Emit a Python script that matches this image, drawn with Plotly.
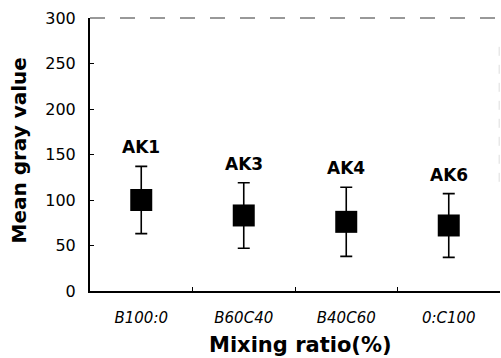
import plotly.graph_objects as go

categories = ["B100:0", "B60C40", "B40C60", "0:C100"]
labels = ["AK1", "AK3", "AK4", "AK6"]
mean_gray = [100, 83, 76, 72]
sd_gray = [37, 36, 38, 35]
y_ticks = [0, 50, 100, 150, 200, 250, 300]

fig = go.Figure()
fig.add_trace(go.Scatter(
    x=categories, y=mean_gray, mode="markers",
    marker=dict(symbol="square", size=22, color="black"),
    error_y=dict(type="data", array=sd_gray, visible=True, color="black",
                 thickness=1.6, width=6),
    showlegend=False,
))

for c, lab, m, s in zip(categories, labels, mean_gray, sd_gray):
    fig.add_annotation(x=c, y=m + s, text=lab, showarrow=False,
                       yanchor="bottom", yshift=7,
                       font=dict(family="DejaVu Sans", size=17, color="black", weight="bold"))

fig.add_annotation(xref="paper", yref="paper", x=(18 - 90) / 410, y=(291.5 - 151) / 273,
                   xanchor="center", yanchor="middle",
                   text="Mean gray value", textangle=-90, showarrow=False,
                   font=dict(family="DejaVu Sans", size=20, color="black", weight="bold"))
fig.add_annotation(xref="paper", yref="paper", x=(300 - 90) / 410, y=(291.5 - 345) / 273,
                   xanchor="center", yanchor="middle",
                   text="Mixing ratio(%)", showarrow=False,
                   font=dict(family="DejaVu Sans", size=21, color="black", weight="bold"))

# dashed top border and faint right border
fig.add_shape(type="line", xref="paper", yref="paper", x0=0, x1=1, y0=1, y1=1,
              line=dict(color="#333", width=1, dash="longdash"))
fig.add_shape(type="line", xref="paper", yref="paper", x0=0.998, x1=0.998, y0=0.4, y1=0.9,
              line=dict(color="#ddd", width=1, dash="dash"))

fig.update_layout(
    width=501, height=358,
    margin=dict(l=90, r=1, t=18, b=67),
    paper_bgcolor="white", plot_bgcolor="white",
    xaxis=dict(type="category", range=[-0.5, 3.5], showgrid=False,
               showline=True, linecolor="black", linewidth=2,
               ticks="inside", tickson="boundaries", ticklen=4, tickcolor="black",
               tickfont=dict(family="DejaVu Sans", size=15, color="black", style="italic"),
               ticklabelstandoff=12, zeroline=False),
    yaxis=dict(range=[0, 300], tickvals=y_ticks, showgrid=False,
               showline=True, linecolor="black", linewidth=2,
               ticks="inside", ticklen=4, tickcolor="black",
               tickfont=dict(family="DejaVu Sans", size=16, color="black"),
               ticklabelstandoff=9, zeroline=False),
)

fig.write_html("out.html")
